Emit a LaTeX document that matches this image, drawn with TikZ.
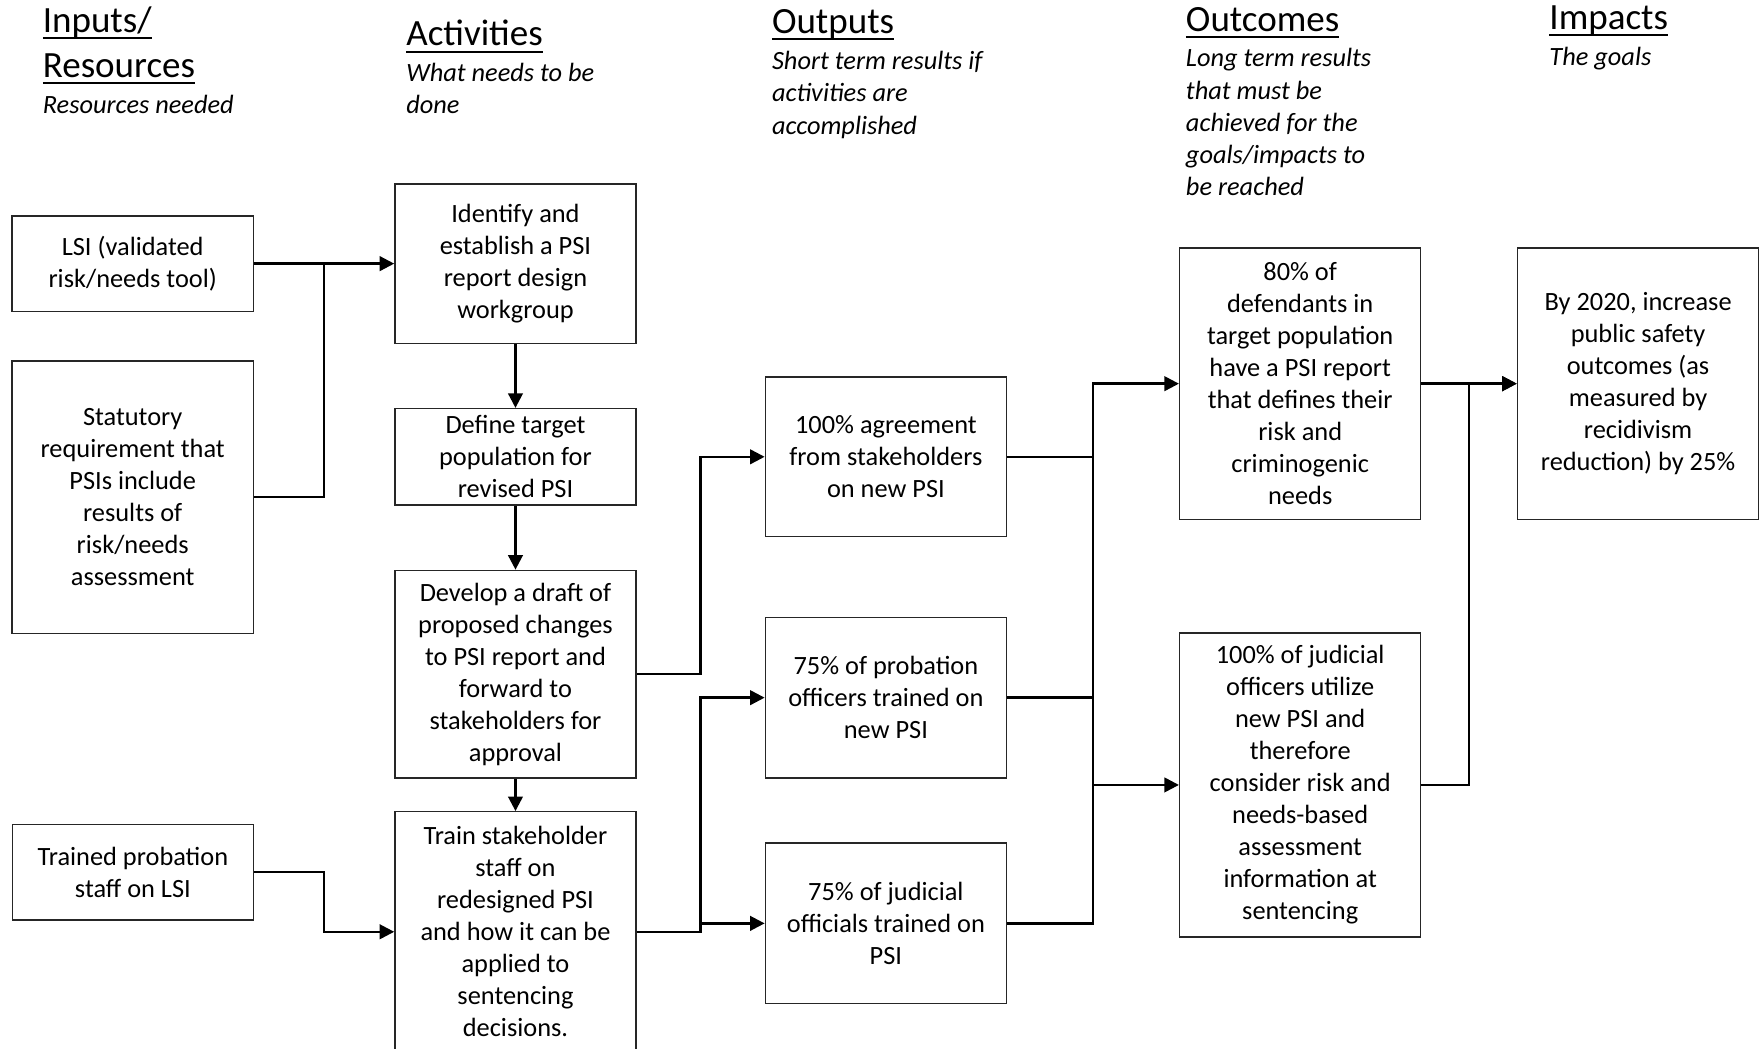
\documentclass[tikz,border=0pt]{standalone}
\usepackage{fontspec}
\setmainfont{Carlito}
\usetikzlibrary{arrows.meta,positioning,calc}

\newcommand{\hdrline}[1]{\setbox0\hbox{#1}\rlap{\rule[-6pt]{\wd0}{1.8pt}}\box0}

\begin{document}
\begin{tikzpicture}[
  x=1pt, y=-1pt,
  box/.style={rectangle, draw=black!85, line width=1.2pt, minimum width=215pt, inner sep=2pt, align=center, font=\fontsize{23.5}{28.5}\selectfont},
  heading/.style={anchor=base west, inner sep=0pt, font=\fontsize{33}{40}\selectfont},
  subhead/.style={anchor=base west, inner sep=0pt, align=left, font=\fontsize{23.5}{28.7}\selectfont\itshape},
  line/.style={line width=2.2pt},
  arrow/.style={line width=2.2pt, -{Triangle[length=13pt, width=13pt]}}
]
\useasboundingbox (0,0) rectangle (1568,935);

% Column headings (subheads sit on their last line)
\node[heading] (hin) at (38,29) {\hdrline{Inputs/}};
\node[heading] (hres) at (38,69) {\hdrline{Resources}};
\node[subhead] (sin) at (38,101) {Resources needed};
\node[heading] (hact) at (362,41) {\hdrline{Activities}};
\node[subhead] (sact) at (362,101.5) {What needs to be\\done};
\node[heading] (hout) at (688,30) {\hdrline{Outputs}};
\node[subhead] (sout) at (688,119.5) {Short term results if\\activities are\\accomplished};
\node[heading] (hoc) at (1057,28) {\hdrline{Outcomes}};
\node[subhead] (soc) at (1057,174.5) {Long term results\\that must be\\achieved for the\\goals/impacts to\\be reached};
\node[heading] (himp) at (1381,26) {\hdrline{Impacts}};
\node[subhead] (simp) at (1381,58) {The goals};

% Activities
\node[box, minimum height=142pt] (ident) at (459.5,235) {Identify and\\establish a PSI\\report design\\workgroup};
\node[box, minimum height=86pt, below=57pt of ident] (define) {Define target\\population for\\revised PSI};
\node[box, minimum height=185pt, below=57pt of define] (develop) {Develop a draft of\\proposed changes\\to PSI report and\\forward to\\stakeholders for\\approval};
\node[box, minimum height=214pt, below=29pt of develop] (train) {Train stakeholder\\staff on\\redesigned PSI\\and how it can be\\applied to\\sentencing\\decisions.};

% Inputs
\node[box, minimum height=85pt, left=125pt of ident] (lsi) {LSI (validated\\risk/needs tool)};
\node[box, minimum height=243pt, below=43pt of lsi] (stat) {Statutory\\requirement that\\PSIs include\\results of\\risk/needs\\assessment};
\node[box, minimum height=85pt] (tps) at (118.5,777.5) {Trained probation\\staff on LSI};

% Outputs
\node[box, minimum height=142pt, right=114pt of define] (agree) {100\% agreement\\from stakeholders\\on new PSI};
\node[box, minimum height=143pt, below=71pt of agree] (probo) {75\% of probation\\officers trained on\\new PSI};
\node[box, minimum height=143pt, below=57pt of probo] (judo) {75\% of judicial\\officials trained on\\PSI};

% Outcomes and impact
\node[box, minimum height=242pt] (defend) at (1159,342) {80\% of\\defendants in\\target population\\have a PSI report\\that defines their\\risk and\\criminogenic\\needs};
\node[box, minimum height=271pt, below=100pt of defend] (judic) {100\% of judicial\\officers utilize\\new PSI and\\therefore\\consider risk and\\needs-based\\assessment\\information at\\sentencing};
\node[box, minimum height=242pt, right=85pt of defend] (impact) {By 2020, increase\\public safety\\outcomes (as\\measured by\\recidivism\\reduction) by 25\%};

% Junctions
\coordinate (jin) at ($(lsi.east)!0.5!(ident.west)$);
\coordinate (jout) at ($(develop.east)!0.5!(agree.west)$);
\coordinate (jres) at ($(agree.east)!0.5!(defend.west)$);
\coordinate (jimp) at ($(judic.east)!0.5!(impact.west)$);

% Inputs to activities
\draw[arrow] (lsi.east) -- (lsi.east -| ident.west);
\draw[line] (stat.east) -| (jin);
\draw[arrow] (tps.east) -| (jin |- train.west) -- (train.west);

% Activity flow
\draw[arrow] (ident) -- (define);
\draw[arrow] (define) -- (develop);
\draw[arrow] (develop) -- (train);

% Activities to outputs
\draw[arrow] (develop.east) -| (jout |- agree.west) -- (agree.west);
\draw[arrow] (train.east) -| (jout |- probo.west) -- (probo.west);
\draw[arrow] (jout |- judo.west) -- (judo.west);

% Outputs to outcomes
\draw[line] (agree.east) -- (agree.east -| jres);
\draw[line] (probo.east) -- (probo.east -| jres);
\draw[arrow] (judo.east) -| (jres |- defend.west) -- (defend.west);
\draw[arrow] (jres |- judic.west) -- (judic.west);

% Outcomes to impact
\draw[arrow] (defend) -- (impact);
\draw[arrow] (judic.east) -| (jimp |- impact.west) -- (impact.west);

\end{tikzpicture}
\end{document}
